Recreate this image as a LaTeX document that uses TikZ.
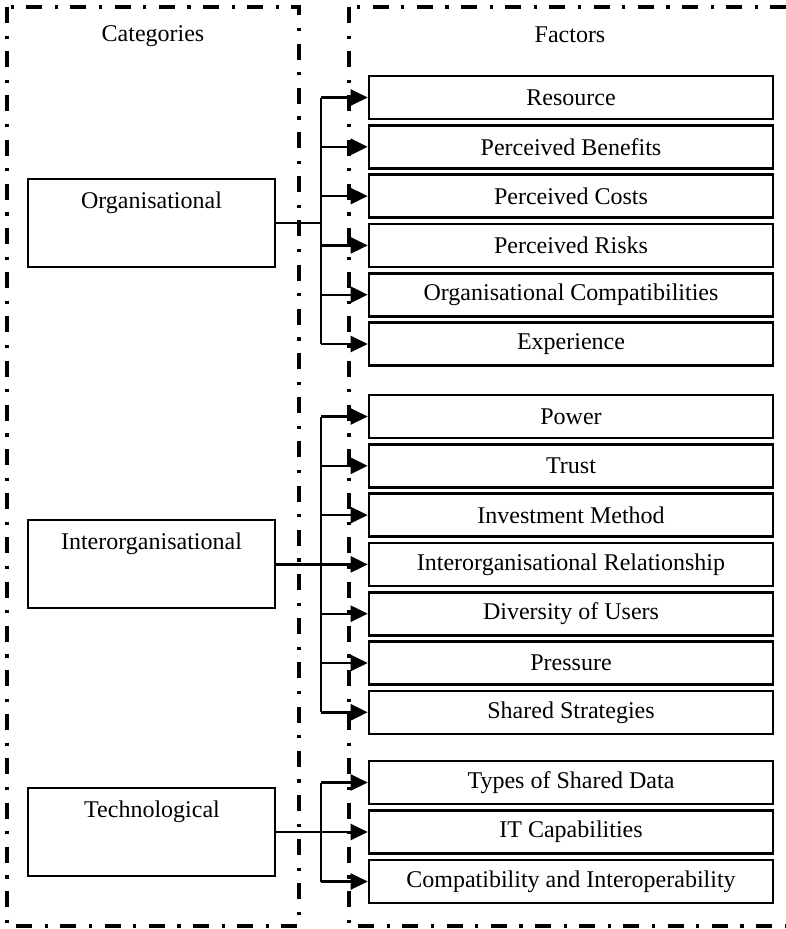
\documentclass[tikz,border=0pt]{standalone}
\usepackage{fontspec}
\setmainfont{Liberation Serif}
\usetikzlibrary{arrows.meta}
\begin{document}
\begin{tikzpicture}[x=1pt,y=-1pt,
  frame/.style={line width=3.4pt, dash pattern=on 16pt off 12.5pt on 3.2pt off 12.5pt},
  catbox/.style={draw, line width=2pt, minimum width=247pt, minimum height=88pt, inner sep=0pt},
  factbox/.style={draw, line width=2.6pt, minimum width=404pt, minimum height=43pt, inner sep=0pt, font=\fontsize{24}{28}\selectfont},
  lab/.style={font=\fontsize{24}{28}\selectfont, inner sep=0pt},
  conn/.style={line width=2.4pt},
  arr/.style={line width=2.4pt, -{Triangle[length=17pt,width=16pt]}}
]
\useasboundingbox (0,0) rectangle (786,929);
% frames
\draw[frame] (7,7) rectangle (299,926);
\draw[frame] (349,7) rectangle (820,926);
\node[lab] (cat) at (153,36) {Categories};
\node[lab] (fac) at (570,35) {Factors};

% category boxes
\node[catbox] (org) at (151.5,223) {};
\node[lab] (orgt) at (151.5,203) {Organisational};
\node[catbox] (inter) at (151.5,563.5) {};
\node[lab] (intert) at (151.5,544) {Interorganisational};
\node[catbox] (tech) at (151.5,832) {};
\node[lab] (techt) at (152,812) {Technological};

% factor boxes
\node[factbox] (f1) at (571,97.5) {Resource};
\node[factbox] (f2) at (571,146.8) {Perceived Benefits};
\node[factbox] (f3) at (571,196.1) {Perceived Costs};
\node[factbox] (f4) at (571,245.4) {Perceived Risks};
\node[factbox] (f5) at (571,294.7) {Organisational Compatibilities};
\node[factbox] (f6) at (571,344) {Experience};

\node[factbox] (g1) at (571,416.5) {Power};
\node[factbox] (g2) at (571,465.8) {Trust};
\node[factbox] (g3) at (571,515.1) {Investment Method};
\node[factbox] (g4) at (571,564.4) {Interorganisational Relationship};
\node[factbox] (g5) at (571,613.7) {Diversity of Users};
\node[factbox] (g6) at (571,663) {Pressure};
\node[factbox] (g7) at (571,712.3) {Shared Strategies};

\node[factbox] (h1) at (571,782.5) {Types of Shared Data};
\node[factbox] (h2) at (571,832) {IT Capabilities};
\node[factbox] (h3) at (571,881.5) {Compatibility and Interoperability};

% buses
\coordinate (b1) at (321,223);
\coordinate (b2) at (321,564.4);
\coordinate (b3) at (321,832);

\draw[conn] (org.east) -- (b1);
\draw[conn] (b1 |- f1.west) -- (b1 |- f6.west);
\foreach \n in {f1,f2,f3,f4,f5,f6} \draw[arr] (b1 |- \n.west) -- (\n.west);

\draw[conn] (inter.east |- b2) -- (b2);
\draw[conn] (b2 |- g1.west) -- (b2 |- g7.west);
\foreach \n in {g1,g2,g3,g4,g5,g6,g7} \draw[arr] (b2 |- \n.west) -- (\n.west);

\draw[conn] (tech.east) -- (b3);
\draw[conn] (b3 |- h1.west) -- (b3 |- h3.west);
\foreach \n in {h1,h2,h3} \draw[arr] (b3 |- \n.west) -- (\n.west);
\end{tikzpicture}
\end{document}
